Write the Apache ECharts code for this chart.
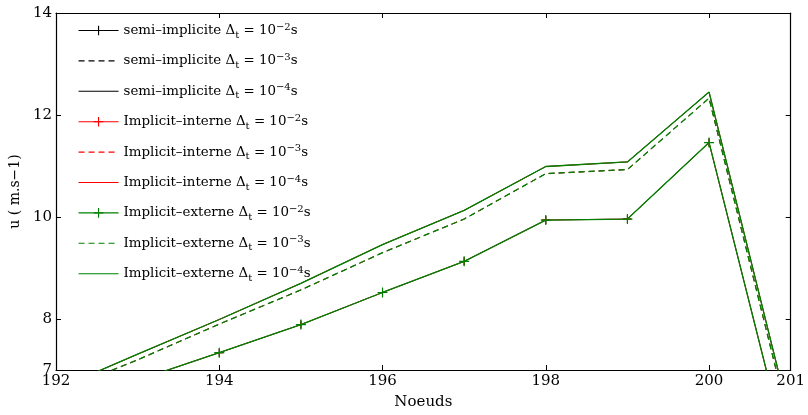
<!DOCTYPE html>
<html><head><meta charset="utf-8">
<script src="https://cdn.jsdelivr.net/npm/echarts@6/dist/echarts.min.js"></script>
<style>html,body{margin:0;padding:0;background:#fff}#c{width:808px;height:415px}</style>
</head><body><div id="c"></div>
<script>
const nodes = [192,193,194,195,196,197,198,199,200,201];
const dt2 = [6.3, 6.8, 7.34, 7.89, 8.52, 9.13, 9.94, 9.96, 11.46, 5.1];
const dt3 = [6.55, 7.2, 7.9, 8.57, 9.3, 9.96, 10.85, 10.93, 12.33, 5.85];
const dt4 = [6.62, 7.31, 7.99, 8.70, 9.46, 10.13, 10.99, 11.08, 12.45, 6.0];
const methods = ['semi–implicite', 'Implicit–interne', 'Implicit–externe'];
const methodColors = ['#000000', '#ff0000', '#008000'];
const exponents = ['−2', '−3', '−4'];
const xTicks = [192,194,196,198,200,201];
const yTicks = [7,8,10,12,14];

const FONT = 'DejaVu Serif';
const cross = 'path://M4.4,0H5.6V4.4H10V5.6H5.6V10H4.4V5.6H0V4.4H4.4Z';
const blank = 'path://M0,0L0.05,0L0,0.05Z M10,10L9.95,10L10,9.95Z';
const dataSets = [dt2, dt3, dt4];
const series = [];
const nameMap = {};
methods.forEach((m, mi) => {
  exponents.forEach((e, ei) => {
    const name = m + ' Δt = 10' + e + 's';
    nameMap[name] = '{n|' + m + ' Δ}{sub|t}{n| = 10}{sup|' + e + '}{n|s}';
    series.push({
      name: name,
      type: 'line',
      data: nodes.map((x, i) => [x, dataSets[ei][i]]),
      showSymbol: ei === 0,
      symbol: ei === 0 ? cross : blank,
      symbolSize: mi === 2 ? 10 : 8,
      itemStyle: {color: methodColors[mi]},
      lineStyle: {color: methodColors[mi], width: mi === 2 ? 1.3 : 0.7, type: ei === 1 ? [6, 4] : 'solid'},
      emphasis: {disabled: true},
      animation: false,
      clip: true,
      z: 2 + mi
    });
  });
});

const chart = echarts.init(document.getElementById('c'));
chart.setOption({
  backgroundColor: '#fff',
  animation: false,
  grid: {left: 56, right: 13, top: 13, bottom: 45, containLabel: false},
  legend: {
    orient: 'vertical', left: 73, top: 16, itemWidth: 40, itemHeight: 12, itemGap: 11.4,
    lineStyle: {width: 1.1},
    formatter: n => nameMap[n],
    textStyle: {
      fontFamily: FONT, fontSize: 13.4, color: '#000',
      rich: {
        n: {fontFamily: FONT, fontSize: 13.4, color: '#000', lineHeight: 16},
        sub: {fontFamily: FONT, fontSize: 10, color: '#000', lineHeight: 16, padding: [9, 0, 0, 0]},
        sup: {fontFamily: FONT, fontSize: 10, color: '#000', lineHeight: 16, padding: [0, 0, 7, 0]}
      }
    }
  },
  xAxis: [{
    type: 'value', min: 192, max: 201, position: 'bottom',
    name: 'Noeuds', nameLocation: 'middle', nameGap: 25,
    nameTextStyle: {fontFamily: FONT, fontSize: 15, color: '#000'},
    axisLine: {lineStyle: {color: '#000', width: 1.2}},
    axisTick: {inside: true, length: 5, customValues: xTicks, lineStyle: {color: '#000'}},
    axisLabel: {customValues: xTicks, fontFamily: FONT, fontSize: 15, color: '#000', margin: 4},
    splitLine: {show: false}
  }, {
    type: 'value', min: 192, max: 201, position: 'top',
    axisLine: {show: true, lineStyle: {color: '#000', width: 1.2}},
    axisTick: {inside: true, length: 5, customValues: xTicks, lineStyle: {color: '#000'}},
    axisLabel: {show: false}, splitLine: {show: false}
  }],
  yAxis: [{
    type: 'value', min: 7, max: 14, position: 'left',
    name: 'u ( m.s−1)', nameLocation: 'middle', nameGap: 30,
    nameTextStyle: {fontFamily: FONT, fontSize: 14, color: '#000'},
    axisLine: {show: true, lineStyle: {color: '#000', width: 1.2}},
    axisTick: {show: true, inside: true, length: 5, customValues: yTicks, lineStyle: {color: '#000'}},
    axisLabel: {customValues: yTicks, fontFamily: FONT, fontSize: 15, color: '#000', margin: 4},
    splitLine: {show: false}
  }, {
    type: 'value', min: 7, max: 14, position: 'right',
    axisLine: {show: true, lineStyle: {color: '#000', width: 1.2}},
    axisTick: {show: true, inside: true, length: 5, customValues: yTicks, lineStyle: {color: '#000'}},
    axisLabel: {show: false}, splitLine: {show: false}
  }],
  series: series
});
</script></body></html>
